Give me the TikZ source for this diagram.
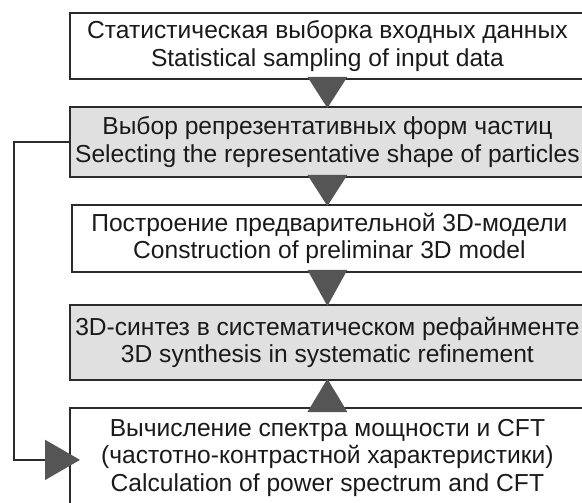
\documentclass[tikz,border=0pt]{standalone}
\usepackage{fontspec}
\setmainfont{Liberation Sans}
\usetikzlibrary{calc,arrows.meta}

\definecolor{boxline}{HTML}{2B2B2B}
\definecolor{boxgray}{HTML}{E0E0E0}
\definecolor{trigray}{HTML}{555555}
\definecolor{txt}{HTML}{1A1A1A}

\begin{document}
\begin{tikzpicture}[x=1pt,y=-1pt,
  stage/.style={draw=boxline,line width=1.8pt,anchor=north west,
    minimum width=515pt,inner sep=0pt,align=center,text=txt,
    font=\fontsize{24.6}{27.5}\selectfont},
  graystage/.style={stage,fill=boxgray},
  tri/.style={fill=trigray}]
 \useasboundingbox (0,0) rectangle (582,503);

 \node[stage,minimum height=66pt] (sample) at (69,12)
  {Статистическая выборка входных данных\\Statistical sampling of input data};
 \node[graystage,minimum height=70pt] (select) at (69,106)
  {Выбор репрезентативных форм частиц\\Selecting the representative shape of particles};
 \node[stage,minimum height=67pt] (prelim) at (71,204)
  {Построение предварительной 3D-модели\\Construction of preliminar 3D model};
 \node[graystage,minimum height=75pt] (synth) at (69,304)
  {3D-синтез в систематическом рефайнменте\\3D synthesis in systematic refinement};
 \node[stage,minimum height=100pt] (spectrum) at (69,407)
  {Вычисление спектра мощности и CFT\\(частотно-контрастной характеристики)\\Calculation of power spectrum and CFT};

 % triangles between stages
 \fill[tri] ($(sample.south)+(-20,-3)$) -- ($(sample.south)+(20,-3)$)
  -- ($(select.north)+(0,2)$) -- cycle;
 \fill[tri] ($(select.south)+(-20,-3)$) -- ($(select.south)+(20,-3)$)
  -- ($(prelim.north)+(-2,2)$) -- cycle;
 \fill[tri] ($(prelim.south)+(-22,-3)$) -- ($(prelim.south)+(18,-3)$)
  -- ($(synth.north)+(0,2)$) -- cycle;
 \fill[tri] ($(spectrum.north)+(-20,5)$) -- ($(spectrum.north)+(20,5)$)
  -- ($(synth.south)+(0,-2)$) -- cycle;

 % feedback loop
 \draw[boxline,line width=1.8pt,
  -{Triangle[width=40pt,length=35pt,color=trigray,fill=trigray]}]
  (select.west) -- ++(-55,0) |- ($(spectrum.west)+(11,2)$);
\end{tikzpicture}
\end{document}
